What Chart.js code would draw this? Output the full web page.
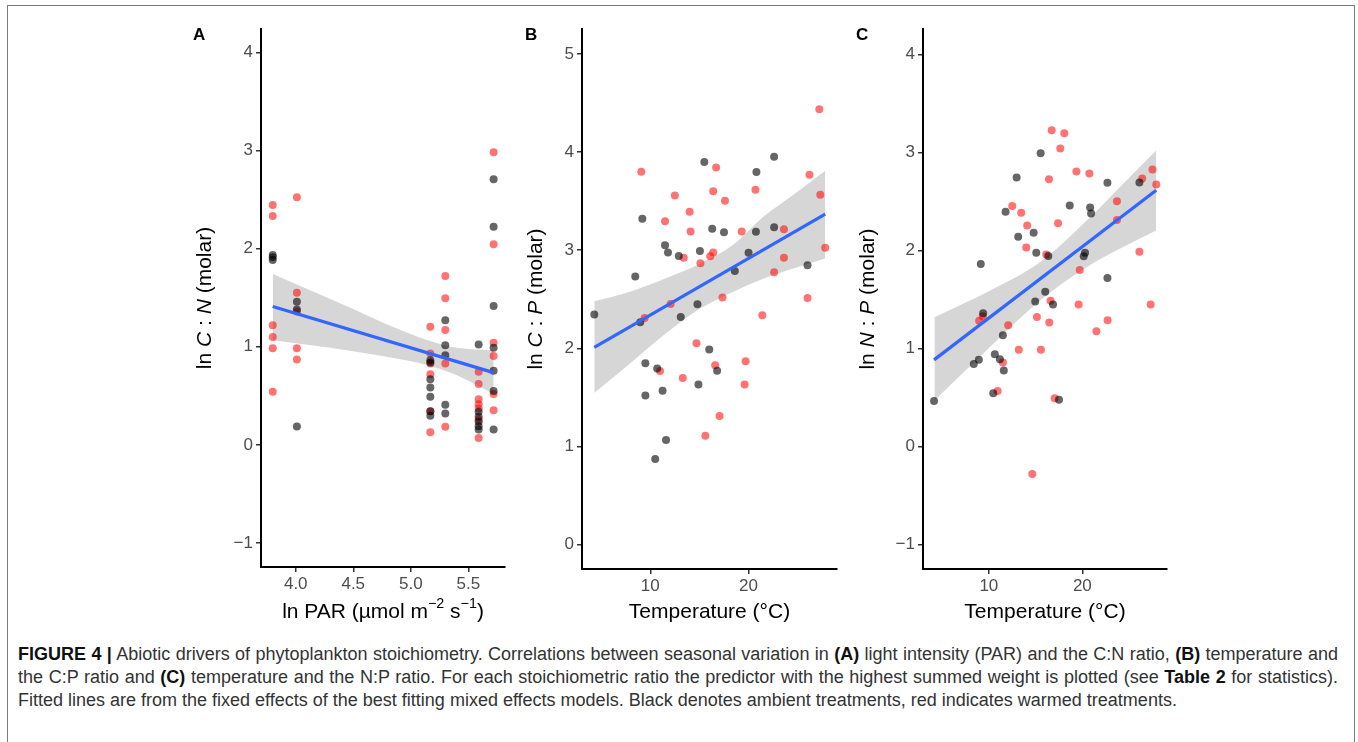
<!DOCTYPE html>
<html lang="en">
<head>
<meta charset="UTF-8">
<title>Figure 4</title>
<script src="https://cdn.jsdelivr.net/npm/chart.js"></script>
<style>
  body { margin: 0; background: #fff; }
  #page { position: relative; width: 1358px; height: 742px; overflow: hidden; background: #fff; }
  #frame { position: absolute; left: 7px; top: 5px; width: 1346px; height: 760px;
           border: 1.5px solid #7a7a7a; border-bottom: none; }
  canvas { position: absolute; top: 0; }
  .cap { position: absolute; left: 18px; width: 1320px; font-family: 'Liberation Sans', Arial, sans-serif;
         font-size: 18px; line-height: 23px; color: #333; white-space: nowrap; }
  .just { text-align: justify; text-align-last: justify; white-space: normal; }
  .cap b { color: #111; }
</style>
</head>
<body>
<div id="page">
  <div id="frame"></div>
  <canvas id="chartA" width="365" height="632" style="left:150px"></canvas>
  <canvas id="chartB" width="370" height="632" style="left:480px"></canvas>
  <canvas id="chartC" width="360" height="632" style="left:820px"></canvas>
  <div class="cap just" style="top:643px"><b>FIGURE 4 |</b> Abiotic drivers of phytoplankton stoichiometry. Correlations between seasonal variation in <b>(A)</b> light intensity (PAR) and the C:N ratio, <b>(B)</b> temperature and</div>
  <div class="cap just" style="top:666px">the C:P ratio and <b>(C)</b> temperature and the N:P ratio. For each stoichiometric ratio the predictor with the highest summed weight is plotted (see <b>Table 2</b> for statistics).</div>
  <div class="cap" style="top:689px">Fitted lines are from the fixed effects of the best fitting mixed effects models. Black denotes ambient treatments, red indicates warmed treatments.</div>
</div>
<script>
// ---------- panel A: ln C:N vs ln PAR ----------
const ambientXA = [3.80, 3.80, 3.80, 4.01, 4.01, 4.01, 5.17, 5.17, 5.17, 5.17, 5.17, 5.17, 5.17,
  5.30, 5.30, 5.30, 5.30, 5.30, 5.59, 5.59, 5.59, 5.59, 5.59, 5.59, 5.72, 5.72, 5.72, 5.72, 5.72, 5.72, 5.72];
const ambientYA = [1.935, 1.912, 1.885, 1.46, 1.38, 0.188, 0.864, 0.84, 0.67, 0.586, 0.49, 0.344, 0.296,
  1.27, 1.017, 0.915, 0.408, 0.32, 1.024, 0.337, 0.286, 0.235, 0.19, 0.157, 2.708, 2.224, 1.415, 0.99, 0.755, 0.55, 0.157];
const warmedXA = [3.80, 3.80, 3.80, 3.80, 3.80, 3.80, 4.01, 4.01, 4.01, 4.01, 4.01,
  5.17, 5.17, 5.17, 5.17, 5.17, 5.17, 5.30, 5.30, 5.30, 5.30, 5.30,
  5.59, 5.59, 5.59, 5.59, 5.59, 5.59, 5.59, 5.72, 5.72, 5.72, 5.72, 5.72, 5.72];
const warmedYA = [2.446, 2.333, 1.22, 1.10, 0.984, 0.541, 2.524, 1.551, 1.36, 0.984, 0.871,
  1.204, 0.932, 0.83, 0.72, 0.344, 0.13, 1.721, 1.494, 1.17, 0.83, 0.184,
  0.745, 0.62, 0.466, 0.415, 0.37, 0.26, 0.071, 2.984, 2.045, 1.04, 0.905, 0.52, 0.354];
const fitXA = [3.80, 5.72];
const fitYA = [1.41, 0.737];
const bandXA = [3.80, 4.10, 4.47, 4.80, 5.14, 5.40, 5.72];
const bandUpA = [1.742, 1.59, 1.40, 1.225, 1.07, 0.99, 0.965];
const bandLoA = [1.068, 1.02, 0.96, 0.895, 0.815, 0.71, 0.52];
const xTicksA = [4.0, 4.5, 5.0, 5.5];
const xTickLabelsA = ['4.0', '4.5', '5.0', '5.5'];
const yTicksA = [-1, 0, 1, 2, 3, 4];
const yTickLabelsA = ['\u22121', '0', '1', '2', '3', '4'];

// ---------- panel B: ln C:P vs temperature ----------
const ambientXB = [4.3, 8.47, 8.98, 9.19, 9.5, 9.5, 10.5, 10.7, 11.25, 11.5, 11.6, 11.8, 12.9, 13.1, 14.8,
  14.9, 15.05, 15.5, 16.0, 16.3, 16.8, 17.5, 18.6, 20.0, 20.75, 20.8, 22.6, 22.6, 26.0];
const ambientYB = [2.344, 2.732, 2.265, 3.32, 1.847, 1.52, 0.871, 1.793, 1.568, 3.051, 1.065, 2.976, 2.942, 2.32, 2.449,
  1.63, 2.993, 3.898, 1.987, 3.218, 1.772, 3.184, 2.789, 2.973, 3.187, 3.796, 3.952, 3.235, 2.847];
const warmedXB = [9.08, 9.42, 10.99, 11.5, 12.07, 12.5, 13.3, 13.4, 14.0, 14.1, 14.7, 15.1, 15.6, 16.1, 16.4, 16.4,
  16.6, 16.7, 17.05, 17.35, 17.6, 19.3, 19.6, 19.7, 20.7, 21.4, 22.6, 23.6, 23.6, 26.0, 26.2, 27.2, 27.3, 27.8];
const warmedYB = [3.80, 2.31, 1.769, 3.296, 2.452, 3.558, 1.698, 2.922, 3.391, 3.19, 2.051, 2.867, 1.109, 2.939, 2.976, 3.602,
  1.827, 3.844, 1.31, 2.517, 3.503, 3.19, 1.63, 1.867, 3.615, 2.337, 2.776, 3.214, 2.922, 2.513, 3.769, 4.436, 3.564, 3.024];
const fitXB = [4.3, 27.8];
const fitYB = [2.01, 3.367];
const bandXB = [4.3, 8.0, 11.7, 15.0, 18.5, 21.5, 24.5, 27.8];
const bandUpB = [2.48, 2.58, 2.72, 2.86, 3.06, 3.34, 3.56, 3.809];
const bandLoB = [1.545, 1.85, 2.16, 2.40, 2.58, 2.71, 2.81, 2.915];
const xTicksB = [10, 20];
const xTickLabelsB = ['10', '20'];
const yTicksB = [0, 1, 2, 3, 4, 5];
const yTickLabelsB = ['0', '1', '2', '3', '4', '5'];

// ---------- panel C: ln N:P vs temperature ----------
const ambientXC = [4.14, 8.39, 8.93, 9.14, 9.39, 10.47, 10.64, 11.18, 11.5, 11.6, 11.79, 12.97, 13.14, 14.79, 14.96,
  15.07, 15.54, 16.03, 16.36, 16.86, 17.5, 18.65, 20.15, 20.29, 20.83, 20.93, 22.68, 22.68, 26.1];
const ambientYC = [0.465, 0.843, 0.884, 1.863, 1.36, 0.544, 0.942, 0.891, 1.136, 0.775, 2.394, 2.745, 2.139, 2.18, 1.48,
  1.976, 2.993, 1.578, 1.945, 1.449, 0.476, 2.459, 1.942, 1.976, 2.439, 2.378, 2.69, 1.72, 2.694];
const warmedXC = [8.96, 9.35, 10.94, 11.5, 12.07, 12.5, 13.2, 13.46, 14.0, 14.1, 14.65, 15.14, 15.57, 16.14, 16.43, 16.46,
  16.6, 16.72, 17.04, 17.4, 17.64, 18.07, 19.36, 19.6, 19.72, 20.75, 21.5, 22.7, 23.7, 23.7, 26.1, 26.4, 27.3, 27.5, 27.9];
const warmedYC = [1.282, 1.33, 0.567, 0.857, 1.238, 2.455, 0.986, 2.384, 2.031, 2.255, -0.28, 1.322, 0.986, 1.959, 2.728, 1.265,
  1.486, 3.228, 0.493, 2.279, 3.041, 3.197, 2.806, 1.449, 1.802, 2.786, 1.177, 1.289, 2.503, 2.31, 1.986, 2.735, 1.449, 2.826, 2.673];
const fitXC = [4.14, 27.9];
const fitYC = [0.884, 2.614];
const bandXC = [4.18, 10.1, 15.47, 20.47, 24.0, 27.9];
const bandUpC = [1.32, 1.59, 1.88, 2.306, 2.646, 3.02];
const bandLoC = [0.469, 1.013, 1.49, 1.83, 2.017, 2.204];
const xTicksC = [10, 20];
const xTickLabelsC = ['10', '20'];
const yTicksC = [-1, 0, 1, 2, 3, 4];
const yTickLabelsC = ['\u22121', '0', '1', '2', '3', '4'];

const FAM = "'Liberation Sans', Arial, Helvetica, sans-serif";

function pts(xs, ys) { return xs.map((x, i) => ({ x: x, y: ys[i] })); }

// draws a title made of plain / italic / superscript pieces, centred on (cx, cy)
function drawRich(ctx, parts, cx, cy, rot, size) {
  const fontOf = p => (p.i ? 'italic ' : '') + (p.sup ? size * 0.68 : size) + 'px ' + FAM;
  let total = 0;
  parts.forEach(p => { ctx.font = fontOf(p); p.w = ctx.measureText(p.t).width; total += p.w; });
  ctx.save();
  ctx.translate(cx, cy);
  ctx.rotate(rot);
  ctx.fillStyle = '#000';
  ctx.textAlign = 'left';
  ctx.textBaseline = 'middle';
  let x = -total / 2;
  parts.forEach(p => {
    ctx.font = fontOf(p);
    ctx.fillText(p.t, x, p.sup ? -size * 0.4 : 0);
    x += p.w;
  });
  ctx.restore();
}

function makePanel(id, o) {
  const titles = {
    id: 'titles',
    afterDraw(chart) {
      const ctx = chart.ctx;
      const a = chart.chartArea;
      drawRich(ctx, o.yTitle, o.yTitleX, (a.top + a.bottom) / 2, -Math.PI / 2, 21);
      drawRich(ctx, o.xTitle, (a.left + a.right) / 2, o.xTitleY, 0, 21);
      ctx.save();
      ctx.font = 'bold 17px ' + FAM;
      ctx.fillStyle = '#000';
      ctx.textAlign = 'left';
      ctx.textBaseline = 'middle';
      ctx.fillText(o.letter, o.letterX, 35);
      ctx.restore();
    }
  };
  const axisGrid = { drawOnChartArea: false, drawTicks: true, tickLength: 5, color: '#333', lineWidth: 1.5 };
  const axisBorder = { display: true, color: '#000', width: 2 };
  const tickFont = { family: FAM, size: 17 };

  new Chart(document.getElementById(id), {
    type: 'scatter',
    data: {
      datasets: [
        { data: pts(o.fitX, o.fitY), showLine: true, borderColor: '#3366FF', borderWidth: 3.2,
          pointRadius: 0, fill: false, order: 0 },
        { data: pts(o.ambX, o.ambY), pointRadius: 4, backgroundColor: 'rgba(0,0,0,0.6)',
          borderWidth: 0, order: 1 },
        { data: pts(o.warmX, o.warmY), pointRadius: 4, backgroundColor: 'rgba(255,0,0,0.55)',
          borderWidth: 0, order: 2 },
        { data: pts(o.bandX, o.bandUp), showLine: true, borderColor: 'transparent', borderWidth: 0,
          pointRadius: 0, fill: '+1', backgroundColor: 'rgba(153,153,153,0.4)',
          cubicInterpolationMode: 'monotone', order: 3 },
        { data: pts(o.bandX, o.bandLo), showLine: true, borderColor: 'transparent', borderWidth: 0,
          pointRadius: 0, fill: false, cubicInterpolationMode: 'monotone', order: 4 }
      ]
    },
    options: {
      responsive: false,
      animation: false,
      events: [],
      layout: { padding: { left: 0, top: 29, right: o.padRight, bottom: 0 } },
      plugins: { legend: { display: false }, tooltip: { enabled: false } },
      scales: {
        x: {
          type: 'linear', min: o.xMin, max: o.xMax,
          afterBuildTicks: s => { s.ticks = o.xTicks.map(v => ({ value: v })); },
          afterFit: s => { s.height = o.xAxisH; },
          grid: axisGrid, border: axisBorder,
          ticks: { color: '#4d4d4d', font: tickFont, padding: 2, maxRotation: 0, autoSkip: false,
                   callback: (v, i) => o.xTickLabels[i] }
        },
        y: {
          type: 'linear', min: o.yMin, max: o.yMax,
          afterBuildTicks: s => { s.ticks = o.yTicks.map(v => ({ value: v })); },
          afterFit: s => { s.width = o.yAxisW; },
          grid: axisGrid, border: axisBorder,
          ticks: { color: '#4d4d4d', font: tickFont, padding: 3, autoSkip: false,
                   callback: (v, i) => o.yTickLabels[i] }
        }
      }
    },
    plugins: [titles]
  });
}

makePanel('chartA', {
  ambX: ambientXA, ambY: ambientYA, warmX: warmedXA, warmY: warmedYA,
  fitX: fitXA, fitY: fitYA, bandX: bandXA, bandUp: bandUpA, bandLo: bandLoA,
  xTicks: xTicksA, xTickLabels: xTickLabelsA, yTicks: yTicksA, yTickLabels: yTickLabelsA,
  xMin: 3.698, xMax: 5.819, yMin: -1.245, yMax: 4.24,
  yAxisW: 111, xAxisH: 65, padRight: 10,
  yTitleX: 205 - 150, xTitleY: 612, letter: 'A', letterX: 193 - 150,
  yTitle: [{ t: 'ln ' }, { t: 'C', i: true }, { t: ' : ' }, { t: 'N', i: true }, { t: ' (molar)' }],
  xTitle: [{ t: 'ln PAR (\u00B5mol m' }, { t: '\u22122', sup: true }, { t: ' s' }, { t: '\u22121', sup: true }, { t: ')' }]
});

makePanel('chartB', {
  ambX: ambientXB, ambY: ambientYB, warmX: warmedXB, warmY: warmedYB,
  fitX: fitXB, fitY: fitYB, bandX: bandXB, bandUp: bandUpB, bandLo: bandLoB,
  xTicks: xTicksB, xTickLabels: xTickLabelsB, yTicks: yTicksB, yTickLabels: yTickLabelsB,
  xMin: 3.05, xMax: 29.0, yMin: -0.25, yMax: 5.255,
  yAxisW: 102, xAxisH: 63, padRight: 13,
  yTitleX: 536 - 480, xTitleY: 612, letter: 'B', letterX: 525 - 480,
  yTitle: [{ t: 'ln ' }, { t: 'C', i: true }, { t: ' : ' }, { t: 'P', i: true }, { t: ' (molar)' }],
  xTitle: [{ t: 'Temperature (\u00B0C)' }]
});

makePanel('chartC', {
  ambX: ambientXC, ambY: ambientYC, warmX: warmedXC, warmY: warmedYC,
  fitX: fitXC, fitY: fitYC, bandX: bandXC, bandUp: bandUpC, bandLo: bandLoC,
  xTicks: xTicksC, xTickLabels: xTickLabelsC, yTicks: yTicksC, yTickLabels: yTickLabelsC,
  xMin: 2.96, xMax: 29.05, yMin: -1.25, yMax: 4.26,
  yAxisW: 103, xAxisH: 63, padRight: 13,
  yTitleX: 868 - 820, xTitleY: 612, letter: 'C', letterX: 856 - 820,
  yTitle: [{ t: 'ln ' }, { t: 'N', i: true }, { t: ' : ' }, { t: 'P', i: true }, { t: ' (molar)' }],
  xTitle: [{ t: 'Temperature (\u00B0C)' }]
});
</script>
</body>
</html>
